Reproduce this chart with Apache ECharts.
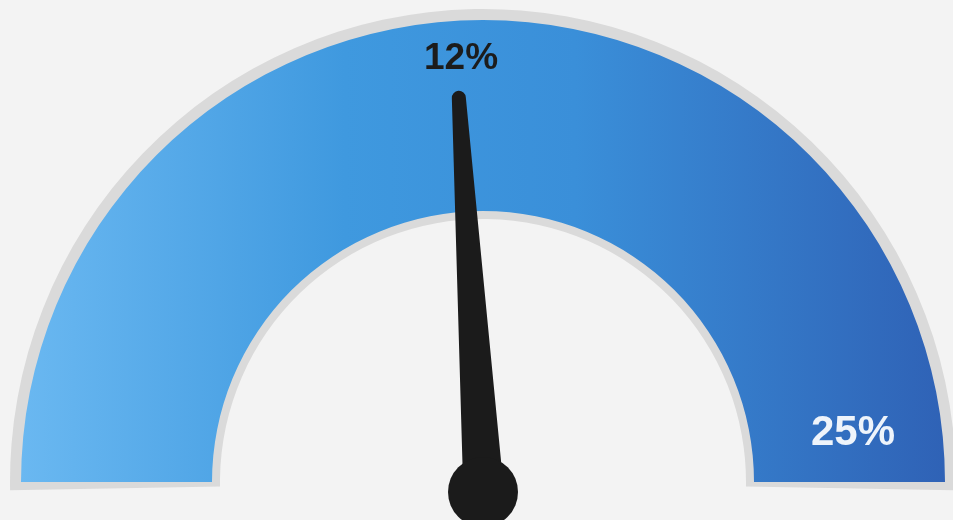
<!DOCTYPE html>
<html>
<head>
<meta charset="utf-8">
<script src="https://cdn.jsdelivr.net/npm/echarts@6/dist/echarts.min.js"></script>
<style>
html,body{margin:0;padding:0;background:#f3f3f3;}
#main{width:953px;height:520px;}
</style>
</head>
<body>
<div id="main"></div>
<script>
// Data
const minValue = 0;
const maxValue = 25;
const currentValue = 12;
const unit = '%';
const gradientStops = ['#6ab8f1', '#3f99df', '#3a8fd9', '#2f62b6'];

const chart = echarts.init(document.getElementById('main'));
const cx = 483, cy = 482;
const grad = new echarts.graphic.LinearGradient(0, 0, 1, 0, [
  {offset: 0, color: gradientStops[0]},
  {offset: 0.35, color: gradientStops[1]},
  {offset: 0.6, color: gradientStops[2]},
  {offset: 1, color: gradientStops[3]}
]);
const hidden = {show: false};
chart.setOption({
  backgroundColor: '#f3f3f3',
  animation: false,
  series: [
    {
      type: 'gauge', center: [cx, cy], radius: 473,
      startAngle: 181, endAngle: -1, min: minValue, max: maxValue,
      axisLine: {lineStyle: {width: 210, color: [[1, '#dadada']]}},
      splitLine: hidden, axisTick: hidden, axisLabel: hidden,
      pointer: hidden, anchor: hidden, title: hidden, detail: hidden,
      data: [{value: minValue}]
    },
    {
      type: 'gauge', center: [cx, cy], radius: 462,
      startAngle: 180, endAngle: 0, min: minValue, max: maxValue,
      axisLine: {lineStyle: {width: 191, color: [[1, grad]]}},
      splitLine: hidden, axisTick: hidden, axisLabel: hidden,
      pointer: {
        show: true,
        icon: 'path://M13,7 A7,7 0 0 1 27,7 L40,392 L0,392 Z',
        length: 392, width: 40,
        itemStyle: {color: '#1b1b1b'}
      },
      anchor: {show: true, showAbove: true, size: 70, icon: 'circle',
        offsetCenter: [0, 10], itemStyle: {color: '#1b1b1b'}},
      title: hidden,
      detail: {
        show: true, formatter: '{value}' + unit,
        offsetCenter: [-22, -423],
        fontSize: 37, fontWeight: 'bold', color: '#1c1c1c',
        fontFamily: 'Liberation Sans'
      },
      data: [{value: currentValue}]
    },
    {
      type: 'gauge', center: [cx, cy], radius: 462,
      startAngle: 180, endAngle: 0, min: minValue, max: maxValue,
      axisLine: hidden, splitLine: hidden, axisTick: hidden, axisLabel: hidden,
      pointer: hidden, anchor: hidden, detail: hidden,
      title: {show: true, offsetCenter: [370, -49], fontSize: 42,
        fontWeight: 'bold', color: '#eef4fb', fontFamily: 'Liberation Sans'},
      data: [{value: maxValue, name: maxValue + unit}]
    }
  ]
});
</script>
</body>
</html>
